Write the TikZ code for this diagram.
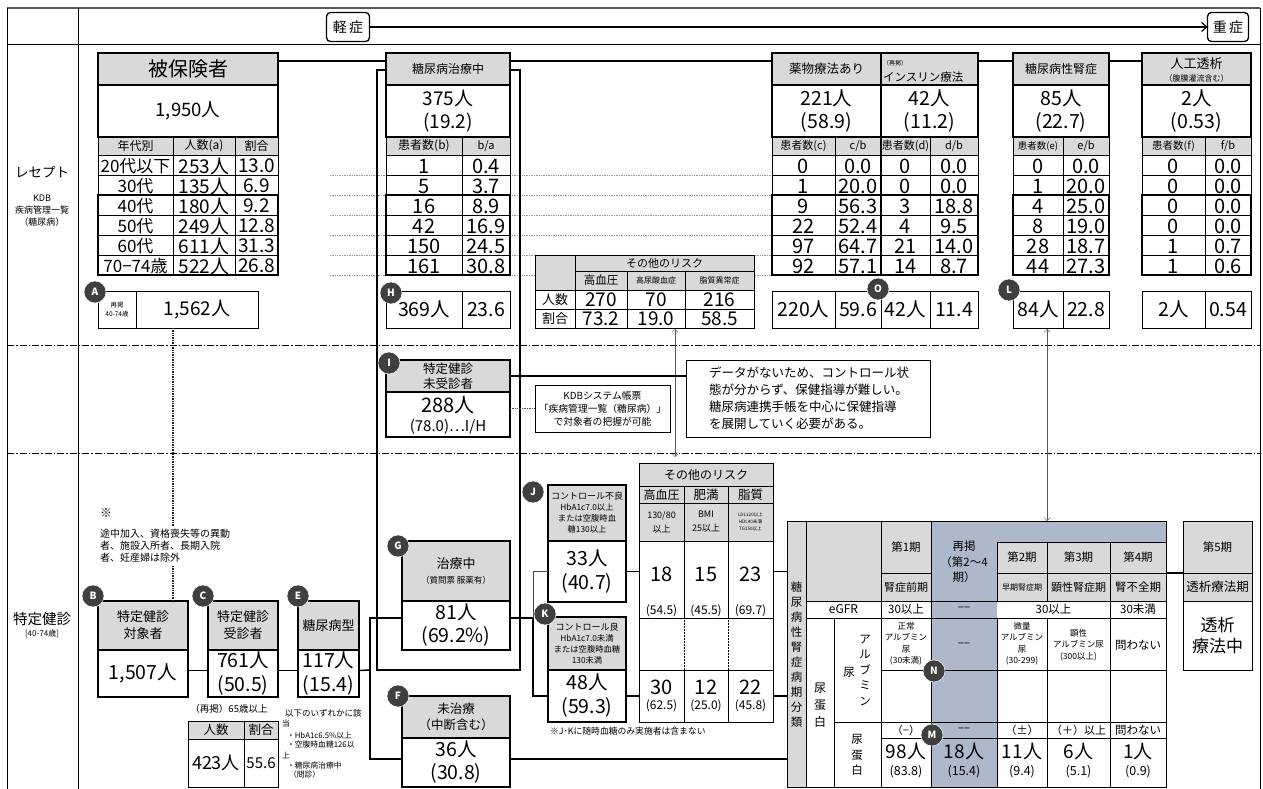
\documentclass[tikz,border=0pt]{standalone}
\usepackage{fontspec}
\setmainfont{Noto Sans CJK JP}
\usetikzlibrary{arrows.meta}
\newcommand\fsz[1]{\fontsize{#1}{#1}\selectfont}
\newcommand\fsl[2]{\fontsize{#1}{#2}\selectfont}
\newcommand\R[6]{\node[#1, minimum width={(#4)-(#2)}, minimum height={(#5)-(#3)}] (#6) at ({((#2)+(#4))/2},{((#3)+(#5))/2})}
\definecolor{hgray}{HTML}{D9D9D9}
\definecolor{bgray}{HTML}{ADB9CA}
\definecolor{cdark}{HTML}{3F3F3F}
\begin{document}
\begin{tikzpicture}[x=1pt,y=-1pt,
  every node/.style={inner sep=0pt, outer sep=0pt},
  hdr/.style={draw, fill=hgray, line width=1.5pt},
  bx/.style={draw, fill=white, line width=1.5pt},
  cellbx/.style={draw, fill=white, line width=0.6pt},
  thk/.style={line width=1.5pt},
  thn/.style={line width=0.5pt},
  badge/.style={circle, fill=cdark, draw=white, line width=0.5pt, text=white, minimum size=22pt, font=\fsz{10}\bfseries},
  ddash/.style={line width=0.6pt, dash pattern=on 7pt off 2pt on 1.5pt off 2pt},
  dotl/.style={line width=0.7pt, gray!80, densely dotted},
  dbl/.style={line width=0.5pt, gray!70!black, arrows={Straight Barb[length=3pt,width=6pt]-Straight Barb[length=3pt,width=6pt]}},
]
\fill[white] (0,0) rectangle (1263,789);
\useasboundingbox (0,0) rectangle (1263,789);
% frame
\draw[line width=1.6pt, black!65] (7,8) -- (1260,8);
\draw[line width=0.9pt] (7,44) -- (1260,44);
\draw[line width=0.9pt] (7,8) -- (7,789) (78,8) -- (78,789) (1260,8) -- (1260,789);
\draw[ddash] (7,345) -- (1260,345) (7,453) -- (1260,453);
% header strip
\node[draw, rounded corners=4pt, line width=1.3pt, minimum width=43pt, minimum height=29pt, font=\fsz{14}] (mild) at (348,27) {軽\,症};
\node[draw, rounded corners=4pt, line width=1.3pt, minimum width=41pt, minimum height=29pt, font=\fsz{14}] (severe) at (1228,27) {重\,症};
\draw[line width=1.2pt, arrows={-Straight Barb[length=5pt,width=9pt]}] (mild) -- (severe);
% left labels
\node[font=\fsz{13.5}] (lrcp) at (42,172) {レセプト};
\node[font=\fsl{9}{12}, align=center] (lkdb) at (42,211) {KDB\\疾病管理一覧\\（糖尿病）};
\node[font=\fsz{14.5}] (ltk) at (42,619) {特定健診};
\node[font=\fsz{8}] (ltk2) at (42,634) {[40-74歳]};
% dotted guide lines
\foreach \y in {175,195,...,275} \draw[dotl] (330,\y) -- (772,\y);
% bracket
\draw[thk] (377,70) rectangle (520,670);

% ===== T1 被保険者
\R{hdr,font=\fsz{20}}{98}{53}{278}{85}{hih}{被保険者};
\R{bx,font=\fsz{18.5}}{98}{85}{278}{137}{hin}{1,950人};
\fill[hgray] (98,137) rectangle (278,155);
\fill[white] (98,155) rectangle (278,275);
\draw[thn] (98,137) rectangle (278,275) (173,137) -- (173,275) (235,137) -- (235,275);
\foreach \y in {155,175,...,255} \draw[thn] (98,\y) -- (278,\y);
\draw[thk] (98,195) rectangle (278,275);
\node[font=\fsz{12}] (t1c1) at (135.5,146) {年代別};
\node[font=\fsz{12}] (t1c2) at (204,146) {人数(a)};
\node[font=\fsz{12}] (t1c3) at (256.5,146) {割合};
\foreach \a/\b/\c [count=\i] in {20代以下/253人/13.0,30代/135人/6.9,40代/180人/9.2,50代/249人/12.8,60代/611人/31.3,70−74歳/522人/26.8}{
  \node[font=\fsz{17}] (t1a\i) at (135.5,146+20*\i) {\a};
  \node[font=\fsz{19}] (t1b\i) at (204,146+20*\i) {\b};
  \node[font=\fsz{19}] (t1r\i) at (256.5,146+20*\i) {\c};
}
\R{cellbx}{98}{291}{258}{328}{Abox}{};
\draw[thn] (136,291) -- (136,328);
\node[font=\fsl{6.5}{9}, align=center] (Alab) at (117,309.5) {再掲\\40-74歳};
\node[font=\fsz{19}] (Anum) at (197,309.5) {1,562人};

% ===== T2 糖尿病治療中
\R{hdr,font=\fsz{12}}{386}{53}{510}{85}{t2h}{糖尿病治療中};
\R{bx,font=\fsl{19}{23},align=center}{386}{85}{510}{137}{t2n}{375人\\(19.2)};
\fill[hgray] (386,137) rectangle (510,155);
\fill[white] (386,155) rectangle (510,275);
\draw[thn] (386,137) rectangle (510,275) (462,137) -- (462,275);
\foreach \y in {155,175,...,255} \draw[thn] (386,\y) -- (510,\y);
\draw[thk] (386,195) rectangle (510,275);
\node[font=\fsz{12}] (t2c1) at (424,146) {患者数(b)};
\node[font=\fsz{11}] (t2c2) at (486,146) {b/a};
\foreach \a/\b [count=\i] in {1/0.4,5/3.7,16/8.9,42/16.9,150/24.5,161/30.8}{
  \node[font=\fsz{20}] (t2a\i) at (424,146+20*\i) {\a};
  \node[font=\fsz{20}] (t2b\i) at (486,146+20*\i) {\b};
}
\R{cellbx}{386}{291}{510}{328}{Hbox}{};
\draw[thn] (462,291) -- (462,328);
\node[font=\fsz{19.5}] (Hn) at (424,309.5) {369人};
\node[font=\fsz{19.5}] (Hr) at (486,309.5) {23.6};

% ===== T3 薬物療法あり / インスリン療法
\R{hdr,font=\fsz{12.5}}{772}{53}{881}{85}{t3h}{薬物療法あり};
\R{hdr}{881}{53}{978}{85}{t4h}{};
\node[font=\fsz{6}, anchor=west] (t4ha) at (883,63) {（再掲）};
\node[font=\fsz{11.5}, anchor=west] (t4hb) at (883,77) {インスリン療法};
\R{bx,font=\fsl{19.5}{23},align=center}{772}{85}{881}{137}{t3n}{221人\\(58.9)};
\R{bx,font=\fsl{19.5}{23},align=center}{881}{85}{978}{137}{t4n}{42人\\(11.2)};
\fill[hgray] (772,137) rectangle (978,155);
\fill[white] (772,155) rectangle (978,275);
\draw[thn] (772,137) rectangle (978,275) (835,137) -- (835,275) (930,137) -- (930,275);
\foreach \y in {155,175,...,255} \draw[thn] (772,\y) -- (978,\y);
\draw[thk] (772,195) rectangle (978,275) (881,137) -- (881,275);
\node[font=\fsz{11}] (t3c1) at (803.5,146) {患者数(c)};
\node[font=\fsz{11}] (t3c2) at (858,146) {c/b};
\node[font=\fsz{11}] (t3c3) at (905.5,146) {患者数(d)};
\node[font=\fsz{11}] (t3c4) at (954,146) {d/b};
\foreach \a/\b/\c/\d [count=\i] in {0/0.0/0/0.0,1/20.0/0/0.0,9/56.3/3/18.8,22/52.4/4/9.5,97/64.7/21/14.0,92/57.1/14/8.7}{
  \node[font=\fsz{20}] (t3a\i) at (803.5,146+20*\i) {\a};
  \node[font=\fsz{20}] (t3b\i) at (858,146+20*\i) {\b};
  \node[font=\fsz{20}] (t3d\i) at (905.5,146+20*\i) {\c};
  \node[font=\fsz{20}] (t3e\i) at (954,146+20*\i) {\d};
}
\R{cellbx}{772}{291}{978}{328}{Obox}{};
\draw[thn] (835,291) -- (835,328) (881,291) -- (881,328) (930,291) -- (930,328);
\node[font=\fsz{19.5}] (O1) at (803.5,309.5) {220人};
\node[font=\fsz{19.5}] (O2) at (858,309.5) {59.6};
\node[font=\fsz{19.5}] (O3) at (905.5,309.5) {42人};
\node[font=\fsz{19.5}] (O4) at (954,309.5) {11.4};

% ===== T5 糖尿病性腎症
\R{hdr,font=\fsz{12}}{1013}{53}{1109}{85}{t5h}{糖尿病性腎症};
\R{bx,font=\fsl{19.5}{23},align=center}{1013}{85}{1109}{137}{t5n}{85人\\(22.7)};
\fill[hgray] (1013,137) rectangle (1109,155);
\fill[white] (1013,155) rectangle (1109,275);
\draw[thn] (1013,137) rectangle (1109,275) (1063,137) -- (1063,275);
\foreach \y in {155,175,...,255} \draw[thn] (1013,\y) -- (1109,\y);
\draw[thk] (1013,195) rectangle (1109,275);
\node[font=\fsz{9.5}] (t5c1) at (1038,146) {患者数(e)};
\node[font=\fsz{11}] (t5c2) at (1086,146) {e/b};
\foreach \a/\b [count=\i] in {0/0.0,1/20.0,4/25.0,8/19.0,28/18.7,44/27.3}{
  \node[font=\fsz{20}] (t5a\i) at (1038,146+20*\i) {\a};
  \node[font=\fsz{20}] (t5b\i) at (1086,146+20*\i) {\b};
}
\R{cellbx}{1013}{291}{1109}{328}{Lbox}{};
\draw[thn] (1063,291) -- (1063,328);
\node[font=\fsz{19.5}] (L1) at (1038,309.5) {84人};
\node[font=\fsz{19.5}] (L2) at (1086,309.5) {22.8};

% ===== T6 人工透析
\R{hdr}{1142}{53}{1251}{85}{t6h}{};
\node[font=\fsz{13}] (t6ha) at (1196.5,64) {人工透析};
\node[font=\fsz{8}] (t6hb) at (1196.5,78) {（腹膜灌流含む）};
\R{bx,font=\fsl{19.5}{23},align=center}{1142}{85}{1251}{137}{t6n}{2人\\(0.53)};
\fill[hgray] (1142,137) rectangle (1251,155);
\fill[white] (1142,155) rectangle (1251,275);
\draw[thn] (1142,137) rectangle (1251,275) (1205,137) -- (1205,275);
\foreach \y in {155,175,...,255} \draw[thn] (1142,\y) -- (1251,\y);
\draw[thk] (1142,195) rectangle (1251,275);
\node[font=\fsz{10.5}] (t6c1) at (1173.5,146) {患者数(f)};
\node[font=\fsz{11}] (t6c2) at (1228,146) {f/b};
\foreach \a/\b [count=\i] in {0/0.0,0/0.0,0/0.0,0/0.0,1/0.7,1/0.6}{
  \node[font=\fsz{20}] (t6a\i) at (1173.5,146+20*\i) {\a};
  \node[font=\fsz{20}] (t6b\i) at (1228,146+20*\i) {\b};
}
\R{cellbx}{1142}{291}{1251}{328}{Dbox}{};
\draw[thn] (1205,291) -- (1205,328);
\node[font=\fsz{19.5}] (D1) at (1173.5,309.5) {2人};
\node[font=\fsz{19.5}] (D2) at (1228,309.5) {0.54};

% ===== upper risk table
\fill[hgray] (535,255) rectangle (754,290);
\fill[white] (535,290) rectangle (754,328);
\R{draw, line width=0.8pt}{535}{255}{754}{328}{rk1}{};
\draw[thn] (575,255) -- (575,328) (575,271) -- (754,271) (627,271) -- (627,328) (685,271) -- (685,328) (535,290) -- (754,290) (535,309) -- (754,309);
\node[font=\fsz{11}] (rk1t) at (664.5,263) {その他のリスク};
\node[font=\fsz{11.5}] (rk1a) at (601,280.5) {高血圧};
\node[font=\fsz{8}] (rk1b) at (656,280.5) {高尿酸血症};
\node[font=\fsz{8}] (rk1c) at (719.5,280.5) {脂質異常症};
\node[font=\fsz{13}] (rk1d) at (555,299.5) {人数};
\node[font=\fsz{13}] (rk1e) at (555,318.5) {割合};
\foreach \x/\a/\b [count=\i] in {601/270/73.2,656/70/19.0,719.5/216/58.5}{
  \node[font=\fsz{19}] (rk1n\i) at (\x,300) {\a};
  \node[font=\fsz{19}] (rk1p\i) at (\x,319) {\b};
}
\coordinate (ar1a) at (675,329);
\coordinate (ar1b) at (675,457);
\draw[dbl] (ar1a) -- (ar1b);
\coordinate (ar2a) at (1047,329);
\coordinate (ar2b) at (1047,521);
\draw[dbl] (ar2a) -- (ar2b);

% ===== middle section
\R{hdr,font=\fsl{12.5}{15},align=center}{386}{360}{510}{392}{Ih}{特定健診\\未受診者};
\R{bx}{386}{392}{510}{437}{In}{};
\node[font=\fsz{20}] (In1) at (448,405) {288人};
\node[font=\fsz{15}] (In2) at (448,427) {(78.0)…I/H};
\R{draw, line width=0.8pt, fill=white, font=\fsl{9.8}{13}, align=center}{535}{385}{670}{432}{kdb}{KDBシステム帳票\\「疾病管理一覧（糖尿病）」\\で対象者の把握が可能};
\R{draw, line width=0.8pt, fill=white}{686}{360}{930}{437}{expl}{};
\node[font=\fsl{12.5}{17}, align=left, anchor=west] (explt) at (709,398.5) {データがないため、コントロール状\\態が分からず、保健指導が難しい。\\糖尿病連携手帳を中心に保健指導\\を展開していく必要がある。};
\draw[thk] (Ih.east) -- (Ih.east -| expl.west);
\draw[line width=0.7pt, densely dotted, gray!60!black] (kdb.west -| In.east) -- (kdb.west);

% ===== lower section: B C E
\node[font=\fsz{12}, anchor=west] (kome) at (100,513) {※};
\R{hdr,font=\fsl{13}{17},align=center}{98}{601}{188}{650}{Bh}{特定健診\\対象者};
\R{bx,font=\fsz{19.5}}{98}{650}{188}{697}{Bn}{1,507人};
\R{hdr,font=\fsl{13}{17},align=center}{208}{601}{278}{650}{Ch}{特定健診\\受診者};
\R{bx,font=\fsl{19.5}{24},align=center}{208}{650}{278}{697}{Cn}{761人\\(50.5)};
\R{hdr,font=\fsz{13}}{298}{601}{359}{650}{Eh}{糖尿病型};
\R{bx,font=\fsl{19.5}{24},align=center}{298}{650}{359}{697}{En}{117人\\(15.4)};
\draw[line width=1.2pt, black!85, dash pattern=on 1pt off 0.7pt] ([xshift=-5pt]Abox.south) -- ([xshift=-5pt]Abox.south |- Bh.north);
\node[font=\fsl{10}{12}, align=left, anchor=north west, fill=white, inner sep=3pt] (note) at (97,526) {途中加入、資格喪失等の異動\\者、施設入所者、長期入院\\者、妊産婦は除外};

% 65歳以上
\node[font=\fsz{9.5}] (r65) at (229,709) {（再掲）65歳以上};
\fill[hgray] (188,721) rectangle (278,739);
\R{draw, line width=0.8pt}{188}{721}{278}{787}{t65}{};
\draw[thn] (244,721) -- (244,787) (188,739) -- (278,739);
\node[font=\fsz{12.5}] (t65a) at (216,730) {人数};
\node[font=\fsz{12.5}] (t65b) at (261,730) {割合};
\node[font=\fsz{18}] (t65c) at (216,763) {423人};
\node[font=\fsz{15}] (t65d) at (261,763) {55.6};
\node[font=\fsz{8.5}, anchor=west] (cr1) at (285,713) {以下のいずれかに該};
\node[font=\fsz{7.8}, anchor=west] (cr2) at (282,724) {当};
\node[font=\fsz{7.8}, anchor=west] (cr3) at (287,736) {・HbA1c6.5\%以上};
\node[font=\fsz{7.8}, anchor=west] (cr4) at (287,745) {・空腹時血糖126以};
\node[font=\fsz{7.8}, anchor=west] (cr5) at (282,755) {上};
\node[font=\fsz{7.8}, anchor=west] (cr6) at (287,766) {・糖尿病治療中};
\node[font=\fsz{7.8}, anchor=west] (cr7) at (289,775) {（問診）};

% G F
\R{hdr,font=\fsl{12}{13},align=center}{402}{541}{510}{601}{Gh}{{\fsz{13}治療中}\\[2pt]{\fsz{8.5}（質問票 服薬有）}};
\R{bx,font=\fsl{19.5}{23},align=center}{402}{601}{510}{650}{Gn}{81人\\(69.2\%)};
\R{hdr,font=\fsl{12.5}{16},align=center}{402}{696}{510}{738}{Fh}{未治療\\（中断含む）};
\R{bx,font=\fsl{19.5}{23},align=center}{402}{738}{510}{787}{Fn}{36人\\(30.8)};

% J K
\R{hdr,font=\fsl{8.3}{11},align=center}{548}{485}{626}{541}{Jh}{{\fsz{9}コントロール不良}\\HbA1c7.0以上\\または空腹時血\\糖130以上};
\R{bx,font=\fsl{19.5}{24},align=center}{548}{541}{626}{602}{Jn}{33人\\(40.7)};
\R{hdr,font=\fsl{8.3}{11},align=center}{548}{617}{626}{670}{Kh}{{\fsz{9}コントロール良}\\HbA1c7.0未満\\または空腹時血糖\\130未満};
\R{bx,font=\fsl{19.5}{24},align=center}{548}{670}{626}{722}{Kn}{48人\\(59.3)};

% lower risk table
\fill[hgray] (639,463) rectangle (773,541);
\fill[white] (639,541) rectangle (773,722);
\R{draw, line width=0.8pt}{639}{463}{773}{722}{rk2}{};
\draw[thn] (639,486) -- (773,486) (639,503) -- (773,503) (639,541) -- (773,541) (639,618) -- (773,618) (639,670) -- (773,670);
\draw[thn] (684,486) -- (684,618) (728,486) -- (728,618) (684,670) -- (684,722) (728,670) -- (728,722);
\draw[thn, densely dotted] (684,618) -- (684,670) (728,618) -- (728,670);
\node[font=\fsz{12}] (rk2t) at (706,474.5) {その他のリスク};
\node[font=\fsz{12}] (rk2a) at (661.5,494.5) {高血圧};
\node[font=\fsz{12.5}] (rk2b) at (706,494.5) {肥満};
\node[font=\fsz{12.5}] (rk2c) at (750.5,494.5) {脂質};
\node[font=\fsl{9}{14},align=center] (rk2d) at (661.5,522) {130/80\\以上};
\node[font=\fsl{9}{14},align=center] (rk2e) at (706,522) {BMI\\25以上};
\node[font=\fsl{4.6}{7},align=center] (rk2f) at (750.5,522) {LDL120以上\\HDL40未満\\TG150以上};
\foreach \x/\a/\b/\c/\d [count=\i] in {661.5/18/54.5/30/62.5,706/15/45.5/12/25.0,750.5/23/69.7/22/45.8}{
  \node[font=\fsz{20}] (rkv\i) at (\x,574) {\a};
  \node[font=\fsz{12}] (rkp\i) at (\x,611) {(\b)};
  \node[font=\fsz{20}] (rkw\i) at (\x,687) {\c};
  \node[font=\fsz{12}] (rkq\i) at (\x,706) {(\d)};
}
\node[font=\fsz{8.8}, anchor=west] (jknote) at (550,731) {※J･Kに随時血糖のみ実施者は含まない};

% ===== CKD table
\fill[hgray] (787,521) rectangle (806,787);
\fill[hgray] (806,521) rectangle (931,601);
\fill[hgray] (997,542) rectangle (1166,601);
\fill[bgray] (931,521) rectangle (997,787);
\fill[bgray] (931,521) rectangle (1166,542);
\R{draw, line width=0.8pt}{787}{521}{1166}{787}{ckd}{};
\draw[thn] (806,521) -- (806,787) (834,618) -- (834,787) (881,521) -- (881,787) (931,521) -- (931,787)
  (997,542) -- (997,601) (997,618) -- (997,787) (1047,542) -- (1047,601) (1047,618) -- (1047,787) (1110,542) -- (1110,787)
  (881,573) -- (931,573) (997,573) -- (1166,573) (997,542) -- (1166,542)
  (806,601) -- (1166,601) (806,618) -- (1166,618) (881,670) -- (1166,670) (834,722) -- (1166,722) (881,738) -- (1166,738);
\node[font=\fsl{11.5}{15}, align=center] (ckdv) at (796.5,655) {糖\\尿\\病\\性\\腎\\症\\病\\期\\分\\類};
\node[font=\fsz{12}] (egfr) at (843.5,609.5) {eGFR};
\node[font=\fsl{12}{17}, align=center] (ntp) at (820,705) {尿\\蛋\\白};
\node[font=\fsl{11.5}{15.5}, align=center] (alb1) at (865,670) {ア\\ル\\ブ\\ミ\\ン};
\node[font=\fsz{11.5}] (alb2) at (849,672) {尿};
\node[font=\fsl{11.5}{15.5}, align=center] (ntp2) at (857,755) {尿\\蛋\\白};
\node[font=\fsz{11.5}] (s1a) at (906,547) {第1期};
\node[font=\fsz{11}] (s1b) at (906,587) {腎症前期};
\node[font=\fsl{11.5}{15.5}, align=center] (sre) at (964,562) {再掲\\（第2〜4\\期）};
\node[font=\fsz{11.5}] (s2a) at (1022,557.5) {第2期};
\node[font=\fsz{8}] (s2b) at (1022,587) {早期腎症期};
\node[font=\fsz{11.5}] (s3a) at (1078.5,557.5) {第3期};
\node[font=\fsz{11}] (s3b) at (1078.5,587) {顕性腎症期};
\node[font=\fsz{11.5}] (s4a) at (1138,557.5) {第4期};
\node[font=\fsz{11.5}] (s4b) at (1138,587) {腎不全期};
\node[font=\fsz{11.5}] (eg1) at (906,609.5) {30以上};
\node[font=\fsz{11}] (eg2) at (964,609.5) {−−};
\node[font=\fsz{11.5}] (eg3) at (1053.5,609.5) {30以上};
\node[font=\fsz{11.5}] (eg4) at (1138,609.5) {30未満};
\node[font=\fsl{8.5}{11.5}, align=center] (al1) at (906,644) {正常\\アルブミン\\尿\\(30未満)};
\node[font=\fsz{11}] (al2) at (964,645) {−−};
\node[font=\fsl{8.5}{11.5}, align=center] (al3) at (1022,644) {微量\\アルブミン\\尿\\(30-299)};
\node[font=\fsl{8.5}{11.5}, align=center] (al4) at (1078.5,645) {顕性\\アルブミン尿\\(300以上)};
\node[font=\fsz{11.5}] (al5) at (1138,645) {問わない};
\node[font=\fsz{11}] (pl1) at (906,730) {（−）};
\node[font=\fsz{11}] (pl2) at (964,730) {−−};
\node[font=\fsz{11}] (pl3) at (1022,730) {（±）};
\node[font=\fsz{11}] (pl4) at (1078.5,730) {（＋）以上};
\node[font=\fsz{11.5}] (pl5) at (1138,730) {問わない};
\foreach \x/\a/\b [count=\i] in {906/98人/83.8,964/18人/15.4,1022/11人/9.4,1078.5/6人/5.1,1138/1人/0.9}{
  \node[font=\fsz{19}] (pv\i) at (\x,751) {\a};
  \node[font=\fsz{12.5}] (pp\i) at (\x,772) {(\b)};
}
% 第5期
\fill[hgray] (1183,521) rectangle (1252,601);
\R{draw, line width=0.8pt, font=\fsz{11.5}}{1183}{521}{1252}{573}{k5a}{第5期};
\R{draw, line width=0.8pt, font=\fsz{12.5}}{1183}{573}{1252}{601}{k5b}{透析療法期};
\R{draw, line width=0.8pt, font=\fsl{17}{21}, align=center}{1183}{601}{1252}{670}{k5c}{透析\\療法中};

% ===== connectors
\draw[thk] ([yshift=8pt]hih.east) -- ([yshift=8pt]t2h.west);
\draw[thk] ([yshift=8pt]t2h.east) -- ([yshift=8pt]t3h.west);
\draw[thk] ([yshift=8pt]t4h.east) -- ([yshift=8pt]t5h.west);
\draw[thk] ([yshift=8pt]t5h.east) -- ([yshift=8pt]t6h.west);
\draw[thk] ([yshift=3pt]Bn.east) -- ([yshift=3pt]Cn.west);
\draw[thk] ([yshift=3pt]Cn.east) -- ([yshift=3pt]En.west);
\coordinate (brk) at (370,670);
\draw[thk] ([yshift=3pt]En.east) -- (brk);
\draw[thk] ([yshift=7.5pt]Gn.west) -| (brk) |- ([yshift=3.5pt]Fn.west);
\coordinate (brk2) at (533,618);
\draw[thk] ([yshift=7.5pt]Gn.east) -- (brk2);
\draw[line width=0.8pt, black!70] (Jn.west) -| (brk2);
\draw[thk] (brk2) |- (Kn.west);
\draw[thk] (Jn.east) -- (Jn.east -| rk2.west);
\draw[thk] (Kn.east) -- (Kn.east -| rk2.west);
\draw[thk] (Jn.east -| rk2.east) -- (Jn.east -| ckd.west);
\draw[thk] (Kn.east -| rk2.east) -- (Kn.east -| ckd.west);
\draw[thk] ([yshift=3.5pt]Fn.east) -- ([yshift=3.5pt]Fn.east -| ckd.west);
\draw[thk] (k5a.south west -| ckd.east) -- (k5a.south west);

% ===== badges
\node[badge] (bA) at (95,292) {A};
\node[badge] (bH) at (391,293) {H};
\node[badge] (bO) at (878,289) {O};
\node[badge] (bL) at (1009,290) {L};
\node[badge] (bI) at (389,363) {I};
\node[badge] (bB) at (93,596) {B};
\node[badge] (bC) at (203,596) {C};
\node[badge] (bE) at (298,596) {E};
\node[badge] (bG) at (398,546) {G};
\node[badge] (bF) at (398,696) {F};
\node[badge] (bJ) at (533,492) {J};
\node[badge] (bK) at (545,614) {K};
\node[badge] (bN) at (934,671) {N};
\node[badge] (bM) at (932,735) {M};
\end{tikzpicture}
\end{document}
